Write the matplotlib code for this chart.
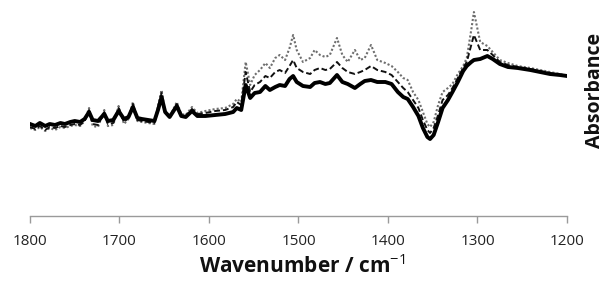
import matplotlib
matplotlib.use("Agg")
import matplotlib.pyplot as plt

plt.rcParams['font.family'] = ['Open Sans', 'DejaVu Sans']
plt.rcParams['mathtext.fontset'] = 'custom'
plt.rcParams['mathtext.rm'] = 'Open Sans'
plt.rcParams['mathtext.it'] = 'Open Sans'
plt.rcParams['mathtext.bf'] = 'Open Sans:bold'

# wavenumber nodes (cm-1)
wavenumber = [1800, 1794, 1789, 1783, 1778, 1772, 1766, 1761, 1755, 1750,
              1744, 1739, 1734, 1730, 1724, 1717, 1713, 1707, 1701, 1695,
              1690, 1685, 1680, 1675, 1668, 1661, 1657, 1653, 1649, 1644,
              1636, 1631, 1626, 1619, 1613, 1604, 1593, 1582, 1573, 1569,
              1564, 1559, 1554, 1549, 1543, 1537, 1532, 1526, 1521, 1515,
              1510, 1506, 1502, 1495, 1487, 1482, 1476, 1470, 1465, 1457,
              1451, 1445, 1437, 1431, 1426, 1419, 1412, 1403, 1396, 1389,
              1383, 1378, 1372, 1366, 1361, 1356, 1353, 1349, 1344, 1339,
              1333, 1328, 1322, 1316, 1312, 1307, 1304, 1297, 1289, 1283,
              1275, 1266, 1255, 1241, 1230, 1219, 1208, 1200]

# absorbance (arbitrary units)
solid = [0.92, 0.90, 0.93, 0.90, 0.92, 0.91, 0.93, 0.92, 0.94, 0.95,
         0.94, 0.97, 1.04, 0.96, 0.95, 1.02, 0.95, 0.96, 1.05, 0.97,
         0.99, 1.09, 0.98, 0.97, 0.96, 0.95, 1.06, 1.19, 1.04, 0.99,
         1.10, 1.00, 0.99, 1.05, 1.00, 1.00, 1.01, 1.02, 1.04, 1.08,
         1.06, 1.31, 1.18, 1.23, 1.24, 1.30, 1.26, 1.29, 1.31, 1.30,
         1.37, 1.40, 1.34, 1.30, 1.29, 1.33, 1.34, 1.32, 1.33, 1.41,
         1.34, 1.32, 1.28, 1.32, 1.35, 1.36, 1.34, 1.34, 1.32, 1.24,
         1.19, 1.17, 1.09, 1.00, 0.88, 0.79, 0.77, 0.81, 0.94, 1.08,
         1.16, 1.24, 1.34, 1.45, 1.50, 1.54, 1.56, 1.57, 1.60, 1.57,
         1.52, 1.49, 1.48, 1.46, 1.44, 1.42, 1.41, 1.40]

dashed = [0.89, 0.87, 0.90, 0.86, 0.89, 0.88, 0.90, 0.89, 0.91, 0.92,
          0.91, 0.95, 1.06, 0.92, 0.91, 1.04, 0.92, 0.93, 1.08, 0.94,
          0.98, 1.12, 0.96, 0.95, 0.94, 0.93, 1.08, 1.23, 1.04, 0.99,
          1.12, 1.01, 1.00, 1.07, 1.02, 1.03, 1.05, 1.06, 1.09, 1.14,
          1.11, 1.44, 1.24, 1.31, 1.34, 1.40, 1.38, 1.44, 1.46, 1.43,
          1.50, 1.56, 1.48, 1.44, 1.42, 1.46, 1.48, 1.46, 1.47, 1.54,
          1.48, 1.44, 1.42, 1.44, 1.46, 1.50, 1.46, 1.44, 1.41, 1.34,
          1.28, 1.24, 1.16, 1.08, 0.96, 0.86, 0.83, 0.88, 1.01, 1.16,
          1.21, 1.28, 1.38, 1.48, 1.54, 1.71, 1.81, 1.66, 1.66, 1.61,
          1.54, 1.51, 1.49, 1.47, 1.45, 1.43, 1.41, 1.40]

dotted = [0.88, 0.86, 0.89, 0.85, 0.88, 0.86, 0.89, 0.88, 0.90, 0.91,
          0.90, 0.95, 1.08, 0.90, 0.89, 1.06, 0.90, 0.91, 1.10, 0.92,
          0.97, 1.14, 0.95, 0.94, 0.93, 0.92, 1.10, 1.26, 1.04, 0.99,
          1.14, 1.02, 1.01, 1.09, 1.03, 1.05, 1.07, 1.08, 1.12, 1.17,
          1.14, 1.54, 1.31, 1.41, 1.46, 1.53, 1.48, 1.58, 1.61, 1.56,
          1.68, 1.81, 1.66, 1.54, 1.58, 1.66, 1.61, 1.59, 1.61, 1.78,
          1.61, 1.54, 1.66, 1.56, 1.58, 1.71, 1.56, 1.53, 1.50, 1.44,
          1.38, 1.36, 1.24, 1.16, 1.04, 0.92, 0.89, 0.94, 1.11, 1.24,
          1.28, 1.32, 1.42, 1.50, 1.58, 1.86, 2.04, 1.74, 1.70, 1.64,
          1.56, 1.53, 1.50, 1.48, 1.46, 1.44, 1.42, 1.40]

xticks = [1800, 1700, 1600, 1500, 1400, 1300, 1200]

fig = plt.figure(figsize=(6.05, 2.84), dpi=100)
ax = fig.add_axes([30 / 605, 68 / 284, 537 / 605, 211 / 284])

ax.plot(wavenumber, dotted, color='#6e6e6e', lw=1.5, ls=(0, (1, 1)))
ax.plot(wavenumber, dashed, color='#111111', lw=1.4, ls=(0, (3, 1.5)))
ax.plot(wavenumber, solid, color='black', lw=2.8)

ax.set_xlim(1800, 1200)
ax.set_ylim(0, 2.11)
ax.set_xticks(xticks)
ax.set_yticks([])
for s in ['left', 'right', 'top']:
    ax.spines[s].set_visible(False)
ax.spines['bottom'].set_color('#9a9a9a')
ax.spines['bottom'].set_linewidth(1.0)
ax.tick_params(axis='x', direction='out', length=5, width=1.0, color='#9a9a9a',
               pad=8, labelsize=11, labelcolor='#222222')

fig.text(302 / 605, 1 - 266 / 284, 'Wavenumber / cm$^{-1}$', ha='center', va='center',
         fontsize=15, fontweight='bold', color='#111111')
fig.text(595 / 605, 1 - 90 / 284, 'Absorbance', rotation=90, ha='center', va='center',
         fontsize=14, fontweight='bold', color='#111111')

fig.savefig('out.png', dpi=100)
